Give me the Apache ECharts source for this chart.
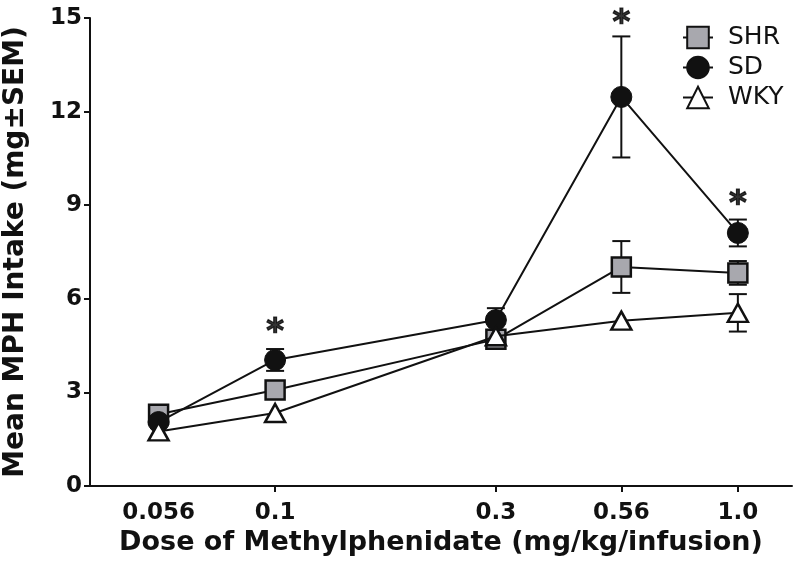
<!DOCTYPE html>
<html>
<head>
<meta charset="utf-8">
<script src="https://cdn.jsdelivr.net/npm/echarts@6/dist/echarts.min.js"></script>
<style>
  html, body { margin: 0; padding: 0; background: #fff; }
  #chart { width: 800px; height: 579px; }
</style>
</head>
<body>
<div id="chart"></div>
<script>
// doses on a log scale
var doses = [0.056, 0.1, 0.3, 0.56, 1.0];
var doseLabels = ['0.056', '0.1', '0.3', '0.56', '1.0'];
var tickDoses = [0.1, 0.3, 0.56, 1.0];   // no tick mark under 0.056

var shr = [2.3, 3.08, 4.7, 7.02, 6.83];
var shrErr = [0, 0, 0, 0.83, 0.38];
var sd = [2.05, 4.04, 5.32, 12.47, 8.11];
var sdErr = [0, 0.35, 0.38, 1.94, 0.43];
var wky = [1.75, 2.34, 4.8, 5.3, 5.55];
var wkyErr = [0, 0, 0, 0, 0.6];

// significance asterisks
var starDoses = [0.1, 0.56, 1.0];
var starY = [5.1, 15.0, 9.2];

var FONT = '"DejaVu Sans", Arial, sans-serif';
var lg = function (d) { return Math.log10(d); };

function pts(vals) {
    return doses.map(function (d, i) { return [lg(d), vals[i]]; });
}
function errPts(vals, errs) {
    var out = [];
    doses.forEach(function (d, i) {
        if (errs[i] > 0) out.push([lg(d), vals[i] - errs[i], vals[i] + errs[i]]);
    });
    return out;
}

function errorBar(params, api) {
    var x = api.value(0);
    var lo = api.coord([x, api.value(1)]);
    var hi = api.coord([x, api.value(2)]);
    var w = 9;
    var st = { stroke: '#111', lineWidth: 2 };
    return {
        type: 'group',
        children: [
            { type: 'line', shape: { x1: lo[0], y1: lo[1], x2: hi[0], y2: hi[1] }, style: st },
            { type: 'line', shape: { x1: lo[0] - w, y1: lo[1], x2: lo[0] + w, y2: lo[1] }, style: st },
            { type: 'line', shape: { x1: hi[0] - w, y1: hi[1], x2: hi[0] + w, y2: hi[1] }, style: st }
        ]
    };
}

var chart = echarts.init(document.getElementById('chart'), null, { renderer: 'canvas' });
var option = {
    backgroundColor: '#fff',
    animation: false,
    textStyle: { fontFamily: FONT },
    grid: { left: 90, right: 8, top: 18, bottom: 93, containLabel: false, outerBoundsMode: 'none' },
    legend: {
        orient: 'vertical',
        left: 677,
        top: 20,
        itemWidth: 30,
        itemHeight: 27,
        itemGap: 5,
        data: ['SHR', 'SD', 'WKY'],
        textStyle: { fontSize: 25, color: '#111', fontFamily: FONT, padding: [0, 0, 0, 10] }
    },
    xAxis: {
        type: 'value',
        min: -1.4,
        max: 0.117,
        name: 'Dose of Methylphenidate (mg/kg/infusion)',
        nameLocation: 'middle',
        nameGap: 40,
        nameTextStyle: { fontSize: 27, fontWeight: 'bold', color: '#111', fontFamily: FONT },
        axisLine: { lineStyle: { color: '#111', width: 2 } },
        axisTick: { show: true, length: 6, lineStyle: { color: '#111', width: 2 }, customValues: tickDoses.map(lg) },
        axisLabel: {
            customValues: doses.map(lg),
            margin: 16,
            fontSize: 23,
            fontWeight: 'bold',
            color: '#111',
            formatter: function (v) {
                var best = 0;
                doses.forEach(function (d, i) {
                    if (Math.abs(lg(d) - v) < Math.abs(lg(doses[best]) - v)) best = i;
                });
                return doseLabels[best];
            }
        },
        splitLine: { show: false }
    },
    yAxis: {
        type: 'value',
        min: 0,
        max: 15,
        interval: 3,
        name: 'Mean MPH Intake (mg\u00B1SEM)',
        nameLocation: 'middle',
        nameGap: 60,
        nameTextStyle: { fontSize: 28, fontWeight: 'bold', color: '#111', fontFamily: FONT },
        axisLine: { show: true, onZero: false, lineStyle: { color: '#111', width: 2 } },
        axisTick: { show: true, length: 6, lineStyle: { color: '#111', width: 2 } },
        axisLabel: { fontSize: 23, fontWeight: 'bold', color: '#111', margin: 8 },
        splitLine: { show: false }
    },
    series: [
        { type: 'custom', name: 'errSHR', renderItem: errorBar, data: errPts(shr, shrErr), z: 1, silent: true },
        { type: 'custom', name: 'errSD', renderItem: errorBar, data: errPts(sd, sdErr), z: 1, silent: true },
        { type: 'custom', name: 'errWKY', renderItem: errorBar, data: errPts(wky, wkyErr), z: 1, silent: true },
        {
            name: 'SHR', type: 'line', data: pts(shr), z: 3,
            symbol: 'rect', symbolSize: 19,
            lineStyle: { color: '#111', width: 2 },
            itemStyle: { color: '#a8a8ae', borderColor: '#111', borderWidth: 2.5 }
        },
        {
            name: 'SD', type: 'line', data: pts(sd), z: 4,
            symbol: 'circle', symbolSize: 21,
            lineStyle: { color: '#111', width: 2 },
            itemStyle: { color: '#111', borderColor: '#111', borderWidth: 1 }
        },
        {
            name: 'WKY', type: 'line', data: pts(wky), z: 5,
            symbol: 'triangle', symbolSize: [20, 18],
            lineStyle: { color: '#111', width: 2 },
            itemStyle: { color: '#fff', borderColor: '#111', borderWidth: 2.5 }
        },
        {
            name: 'stars', type: 'scatter', z: 6, silent: true, clip: false,
            data: starDoses.map(function (d, i) { return [lg(d), starY[i]]; }),
            symbolSize: 1,
            itemStyle: { color: 'rgba(0,0,0,0)' },
            label: {
                show: true, position: 'inside', formatter: '*',
                fontSize: 34, fontWeight: 'bold', color: '#000', offset: [0, 6],
                textBorderColor: '#000', textBorderWidth: 1.2,
                fontFamily: FONT
            }
        }
    ]
};
chart.setOption(option);
</script>
</body>
</html>
